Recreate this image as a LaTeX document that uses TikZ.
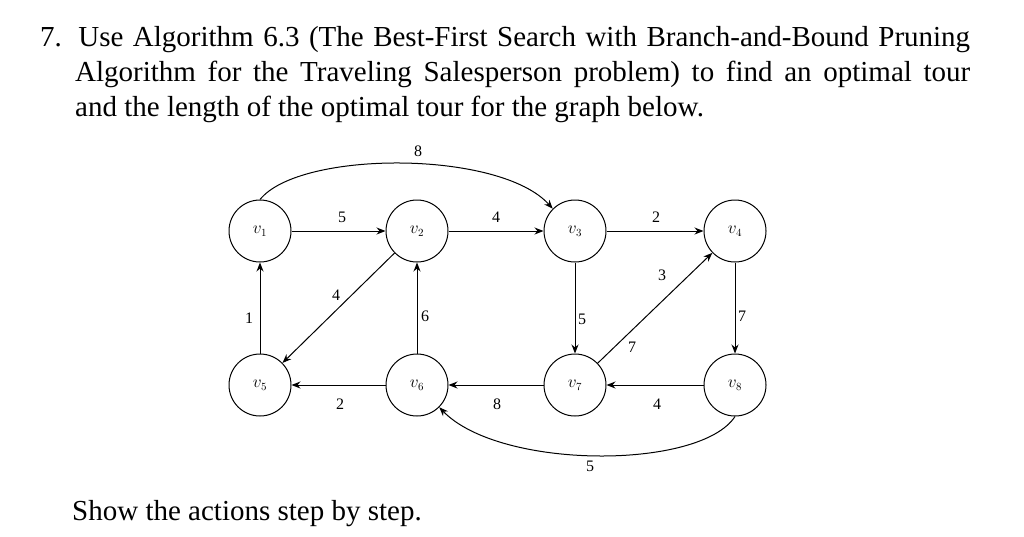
\documentclass[tikz,border=0pt]{standalone}
\usepackage{fontspec}
\setmainfont{Liberation Serif}
\usetikzlibrary{arrows.meta}
\begin{document}
\begin{tikzpicture}[x=1pt,y=-1pt,
  v/.style={circle,draw,line width=1pt,minimum size=62pt,inner sep=0pt,font=\fontsize{16}{16}\selectfont},
  e/.style={line width=1pt,-{Stealth[length=9pt,width=7pt]}},
  w/.style={font=\fontsize{16}{16}\selectfont},
  t/.style={anchor=base west,inner sep=0pt,font=\fontsize{29}{33}\selectfont}]
\useasboundingbox (0,0) rectangle (1024,536);
\node[t] (l1) at (40,46) {\makebox[930pt][s]{7. Use Algorithm 6.3 (The Best-First Search with Branch-and-Bound Pruning}};
\node[t] (l2) at (75,81) {\makebox[895pt][s]{Algorithm for the Traveling Salesperson problem) to find an optimal tour}};
\node[t] (l3) at (75,116) {and the length of the optimal tour for the graph below.};
\node[t] (l4) at (72,520) {Show the actions step by step.};
\node[v] (v1) at (260,231) {$v_1$};
\node[v] (v2) at (417,231) {$v_2$};
\node[v] (v3) at (575,231) {$v_3$};
\node[v] (v4) at (735,231) {$v_4$};
\node[v] (v5) at (260,385) {$v_5$};
\node[v] (v6) at (417,385) {$v_6$};
\node[v] (v7) at (575,385) {$v_7$};
\node[v] (v8) at (735,385) {$v_8$};
\draw[e] (v1) -- (v2);
\draw[e] (v2) -- (v3);
\draw[e] (v3) -- (v4);
\draw[e] (v5) -- (v1);
\draw[e] (v2) -- (v5);
\draw[e] (v6) -- (v2);
\draw[e] (v3) -- (v7);
\draw[e] (v7) -- (v4);
\draw[e] (v4) -- (v8);
\draw[e] (v6) -- (v5);
\draw[e] (v7) -- (v6);
\draw[e] (v8) -- (v7);
\draw[e] (v1.north) .. controls (300,150) and (500,150) .. (v3.north west);
\draw[e] (v8.south) .. controls (700,470) and (500,470) .. (v6.south east);
\node[w] (a) at (342,217) {5};
\node[w] (b) at (496,217) {4};
\node[w] (c) at (656,217) {2};
\node[w] (d) at (249,318) {1};
\node[w] (f) at (336,295) {4};
\node[w] (g) at (425,316) {6};
\node[w] (h) at (582,319) {5};
\node[w] (i) at (662,275) {3};
\node[w] (j) at (632,347) {7};
\node[w] (k) at (742,316) {7};
\node[w] (m) at (340,404) {2};
\node[w] (n) at (497,404) {8};
\node[w] (o) at (657,404) {4};
\node[w] (p) at (418,151) {8};
\node[w] (q) at (590,466) {5};
\end{tikzpicture}
\end{document}
